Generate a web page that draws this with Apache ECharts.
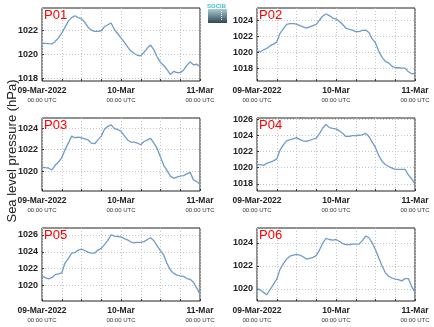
<!DOCTYPE html>
<html><head><meta charset="utf-8">
<script src="https://cdn.jsdelivr.net/npm/echarts@6/dist/echarts.min.js"></script>
<style>html,body{margin:0;padding:0;background:#fff}#c{width:434px;height:327px}</style>
</head><body><div id="c"></div>
<script>
// Hours since 09-Mar-2022 00:00 UTC
const hours = Array.from({length: 49}, (_, i) => i);
const stationNames = ['P01', 'P02', 'P03', 'P04', 'P05', 'P06'];
const p01 = [1020.95,1020.95,1020.92,1020.9,1021.1,1021.4,1021.8,1022.3,1022.8,1023.1,1023.25,1023.1,1023.0,1022.7,1022.3,1022.05,1021.95,1021.95,1022.0,1022.35,1022.5,1022.65,1022.1,1021.75,1021.4,1021.05,1020.65,1020.3,1020.1,1019.95,1019.9,1020.2,1020.55,1020.8,1020.4,1019.8,1019.35,1019.1,1018.75,1018.35,1018.6,1018.5,1018.5,1018.7,1019.1,1019.4,1019.15,1019.2,1019.0];
const p02 = [1020.15,1020.1,1020.35,1020.5,1020.85,1021.05,1021.3,1022.4,1022.95,1023.5,1023.6,1023.6,1023.55,1023.35,1023.2,1023.05,1023.2,1023.35,1023.5,1024.05,1024.55,1024.8,1024.6,1024.3,1024.2,1023.9,1023.5,1023.05,1022.9,1022.8,1022.6,1022.6,1022.75,1022.8,1022.5,1021.7,1021.2,1020.15,1019.4,1018.9,1018.7,1018.3,1018.1,1018.1,1018.05,1018.05,1017.6,1017.35,1017.4];
const p03 = [1020.37,1020.33,1020.3,1020.12,1020.55,1020.85,1021.25,1022.0,1022.6,1023.25,1023.1,1023.15,1023.1,1023.0,1022.9,1022.6,1022.55,1022.9,1023.25,1023.9,1024.15,1024.3,1023.95,1023.85,1023.7,1023.3,1022.9,1022.7,1022.7,1022.6,1022.45,1022.75,1022.9,1023.05,1022.6,1022.1,1021.3,1020.55,1020.05,1019.55,1019.35,1019.45,1019.55,1019.6,1019.75,1019.9,1019.2,1019.05,1018.8];
const p04 = [1020.4,1020.4,1020.3,1020.55,1020.7,1020.85,1021.1,1022.2,1022.85,1023.35,1023.5,1023.6,1023.75,1023.5,1023.35,1023.3,1023.4,1023.55,1023.7,1024.25,1024.95,1025.4,1025.0,1024.9,1024.85,1024.6,1024.3,1023.9,1023.9,1024.0,1024.0,1024.05,1024.1,1024.3,1023.9,1023.2,1022.5,1021.5,1020.8,1020.4,1020.15,1019.95,1019.8,1019.8,1019.8,1019.8,1019.1,1018.6,1018.0];
const p05 = [1021.15,1020.95,1020.8,1020.95,1021.3,1021.4,1021.5,1022.7,1023.2,1023.85,1023.9,1024.2,1024.3,1024.15,1023.95,1023.85,1023.85,1024.2,1024.4,1024.85,1025.35,1026.0,1025.85,1025.8,1025.75,1025.55,1025.4,1025.15,1025.05,1025.1,1025.1,1025.2,1025.45,1025.65,1025.3,1024.7,1024.1,1023.6,1022.6,1021.85,1021.45,1021.25,1021.15,1021.1,1020.85,1020.75,1020.4,1019.75,1019.0];
const p06 = [1020.05,1019.9,1019.7,1019.5,1019.95,1020.4,1020.85,1021.7,1022.2,1022.6,1022.85,1022.95,1023.0,1022.95,1022.8,1022.6,1022.65,1022.75,1022.9,1023.4,1024.0,1024.4,1024.3,1024.25,1024.3,1024.15,1023.95,1023.85,1023.85,1023.9,1023.9,1023.9,1024.2,1024.6,1024.45,1024.0,1023.4,1022.7,1022.0,1021.4,1021.1,1020.95,1020.85,1020.8,1020.7,1020.9,1020.9,1020.2,1019.7];
const seriesValues = [p01, p02, p03, p04, p05, p06];
// y axis ranges and tick labels per panel
const yMins = [1017.8, 1016.45, 1018.17, 1017.1, 1018.2, 1018.95];
const yMaxs = [1023.9, 1025.55, 1024.93, 1026.2, 1026.8, 1025.3];
const yTicks = [[1018,1020,1022],[1018,1020,1022,1024],[1020,1022,1024],[1018,1020,1022,1024,1026],[1020,1022,1024,1026],[1020,1022,1024]];
// x axis tick labels
const xTickHours = [0, 24, 48];
const xTickDates = ['09-Mar-2022', '10-Mar', '11-Mar'];
const xTickTimes = ['00:00 UTC', '00:00 UTC', '00:00 UTC'];
const yAxisTitle = 'Sea level pressure (hPa)';
const logoText = 'SOCIB';

const chart = echarts.init(document.getElementById('c'), null, {renderer: 'canvas'});
const lefts = [42, 257], tops = [8, 118, 228], W = 158, H = 73;
const grids = [], xAxes = [], yAxes = [], series = [], graphics = [];
const FONT = '"Liberation Sans", Arial, sans-serif';
for (let i = 0; i < 6; i++) {
  const col = i % 2, row = Math.floor(i / 2);
  grids.push({left: lefts[col], top: tops[row], width: W, height: H, show: true, borderColor: '#222', borderWidth: 1, backgroundColor: '#fff'});
  xAxes.push({
    type: 'value', gridIndex: i, min: 0, max: 48, interval: 6,
    axisLine: {show: false},
    axisTick: {show: true, inside: true, length: 2, lineStyle: {color: '#333'}},
    splitLine: {show: true, lineStyle: {color: '#c4c4c4', type: [1, 2], width: 1}},
    axisLabel: {
      show: true, margin: 4, hideOverlap: false, showMinLabel: true, showMaxLabel: true,
      formatter: v => { const k = xTickHours.indexOf(v); return k < 0 ? '' : '{a|' + xTickDates[k] + '}\n{b|' + xTickTimes[k] + '}'; },
      rich: {
        a: {fontSize: 8.5, fontWeight: 'bold', color: '#222', fontFamily: FONT, lineHeight: 11},
        b: {fontSize: 6, color: '#333', fontFamily: FONT, lineHeight: 9}
      }
    }
  });
  yAxes.push({
    type: 'value', gridIndex: i, min: yMins[i], max: yMaxs[i],
    axisLine: {show: false},
    axisTick: {show: true, inside: true, length: 2, customValues: yTicks[i], lineStyle: {color: '#333'}},
    splitLine: {show: true, lineStyle: {color: '#c4c4c4', type: [1, 2], width: 1}},
    axisLabel: {show: true, customValues: yTicks[i], margin: 4, fontSize: 9, fontWeight: 'bold', color: '#222', fontFamily: FONT,
      formatter: v => String(Math.round(v))}
  });
  series.push({
    type: 'line', xAxisIndex: i, yAxisIndex: i, showSymbol: false, silent: true,
    lineStyle: {color: '#6d9ccb', width: 1.3},
    data: hours.map((h, k) => [h, seriesValues[i][k]])
  });
  graphics.push({type: 'text', left: lefts[col] + 2, top: tops[row] + 1, z: 100,
    style: {text: stationNames[i], fill: '#ff0000', fontSize: 13, fontFamily: FONT}});
}
graphics.push({type: 'text', x: 12, y: 151, rotation: Math.PI / 2,
  style: {text: yAxisTitle, fill: '#222', fontSize: 13, fontFamily: FONT, align: 'center', verticalAlign: 'middle'}});
graphics.push({type: 'text', left: 207, top: 3, style: {text: logoText, fill: '#3cc0dc', fontSize: 6, fontWeight: 'bold', fontFamily: FONT}});
graphics.push({type: 'rect', shape: {x: 208, y: 9, width: 19, height: 14},
  style: {fill: new echarts.graphic.LinearGradient(0, 0, 0, 1, [{offset: 0, color: '#a9ccd6'}, {offset: 1, color: '#2f4650'}])}});
graphics.push({type: 'line', shape: {x1: 221.5, y1: 11, x2: 221.5, y2: 21}, style: {stroke: '#fff', lineWidth: 1, lineDash: [1, 1]}});

chart.setOption({
  animation: false,
  grid: grids, xAxis: xAxes, yAxis: yAxes, series: series, graphic: graphics
});
</script></body></html>
